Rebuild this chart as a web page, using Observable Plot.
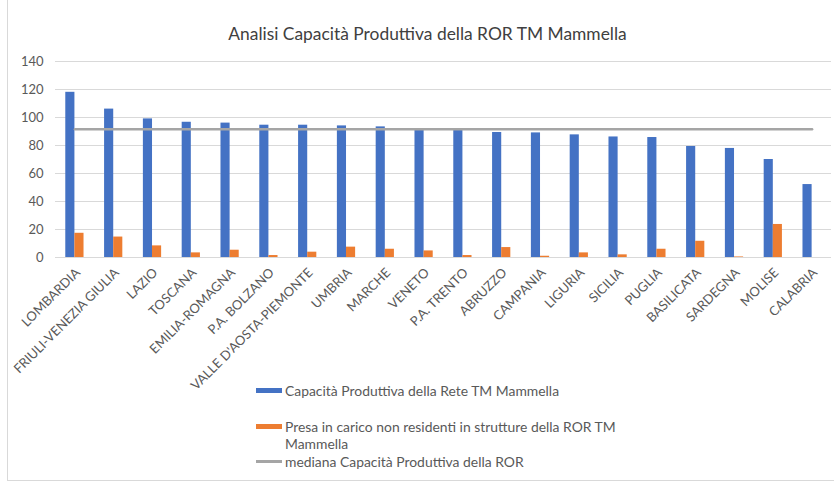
<!DOCTYPE html>
<html>
<head>
<meta charset="utf-8">
<script src="https://cdn.jsdelivr.net/npm/d3@7"></script>
<script src="https://cdn.jsdelivr.net/npm/@observablehq/plot@0.6"></script>
<style>
  html, body { margin: 0; padding: 0; background: #fff; }
  #wrap { position: relative; width: 834px; height: 484px; overflow: hidden; font-family: Lato, "Open Sans", sans-serif; color: #595959; }
  #frame { position: absolute; left: 7px; top: -2px; width: 840px; height: 483px; border: 1px solid #d9d9d9; box-sizing: border-box; }
  #title { position: absolute; left: 0; width: 855px; top: 23px; text-align: center; font-size: 17.4px; color: #404040; }
  #chart { position: absolute; left: 0; top: 0; }
  #chart svg { overflow: visible; }
  .leg { position: absolute; left: 256px; font-size: 13.9px; color: #595959; line-height: 17px; }
  .sw { position: absolute; left: 0; width: 26px; }
  .lt { position: absolute; left: 29px; width: 345px; white-space: normal; }
</style>
</head>
<body>
<div id="wrap">
  <div id="frame"></div>
  <div id="chart"></div>
  <div id="title">Analisi Capacità Produttiva della ROR TM Mammella</div>
  <div id="legend"></div>
</div>
<script>
const regions = ["LOMBARDIA","FRIULI-VENEZIA GIULIA","LAZIO","TOSCANA","EMILIA-ROMAGNA","P.A. BOLZANO","VALLE D'AOSTA-PIEMONTE","UMBRIA","MARCHE","VENETO","P.A. TRENTO","ABRUZZO","CAMPANIA","LIGURIA","SICILIA","PUGLIA","BASILICATA","SARDEGNA","MOLISE","CALABRIA"];
const capacita = [118, 106, 99, 96.6, 96, 94.5, 94.5, 94, 93.3, 91, 91, 89.3, 89, 87.6, 86.1, 85.7, 79.3, 77.9, 70, 52.1];
const presaInCarico = [17.3, 14.6, 8.3, 3.3, 5.2, 1.4, 3.8, 7.4, 5.9, 4.7, 1.4, 7.1, 0.9, 3.3, 1.9, 5.9, 11.6, 0.4, 23.6, 0];
const mediana = 91.6;
const yTicks = [0, 20, 40, 60, 80, 100, 120, 140];
const seriesNames = ["Capacità Produttiva della Rete TM Mammella", "Presa in carico non residenti in strutture della ROR TM Mammella", "mediana Capacità Produttiva della ROR"];
const colors = ["#4472C4", "#ED7D31", "#A5A5A5"];

const rows = regions.map((r, i) => ({region: r, cap: capacita[i], presa: presaInCarico[i], med: mediana}));

const chart = Plot.plot({
  width: 834,
  height: 400,
  marginLeft: 55,
  marginRight: 3,
  marginTop: 61,
  marginBottom: 143,
  style: {fontFamily: "Lato, 'Open Sans', sans-serif", fontSize: "13px", color: "#595959", background: "transparent", overflow: "visible"},
  x: {domain: regions, paddingInner: 0.53, paddingOuter: 0.265, round: false, label: null},
  y: {domain: [0, 140], ticks: yTicks, label: null},
  marks: [
    Plot.ruleY(yTicks, {stroke: "#d9d9d9", strokeWidth: 1}),
    Plot.barY(rows, {x: "region", y: "cap", fill: colors[0], insetRight: 9.1, insetLeft: 0}),
    Plot.barY(rows, {x: "region", y: "presa", fill: colors[1], insetLeft: 9.1, insetRight: 0}),
    Plot.lineY(rows, {x: "region", y: "med", stroke: colors[2], strokeWidth: 2.5}),
    Plot.axisY({ticks: yTicks, tickSize: 0, tickPadding: 12, fontSize: 13, label: null}),
    Plot.axisX({tickSize: 0, tickRotate: -45, tickPadding: 13, dx: 3, fontSize: 13, label: null, textAnchor: "end"})
  ]
});
document.getElementById("chart").appendChild(chart);

const legend = document.getElementById("legend");
const tops = [382, 418, 453];
seriesNames.forEach((name, i) => {
  const d = document.createElement("div");
  d.className = "leg";
  d.style.top = tops[i] + "px";
  const sw = document.createElement("div");
  sw.className = "sw";
  sw.style.background = colors[i];
  if (i < 2) { sw.style.top = "6px"; sw.style.height = "5px"; }
  else { sw.style.top = "7px"; sw.style.height = "3px"; }
  const t = document.createElement("div");
  t.className = "lt";
  t.textContent = name;
  d.appendChild(sw); d.appendChild(t);
  legend.appendChild(d);
});
</script>
</body>
</html>
